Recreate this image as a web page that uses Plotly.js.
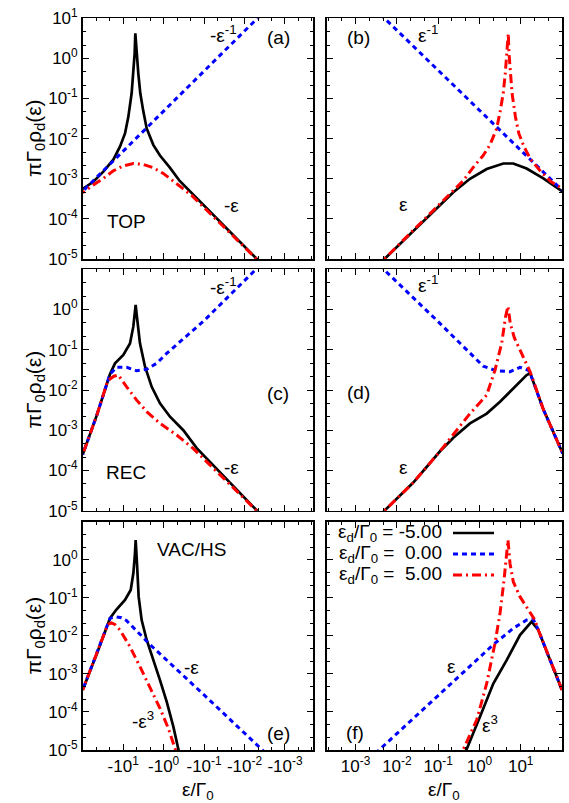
<!DOCTYPE html>
<html>
<head>
<meta charset="utf-8">
<script src="https://cdn.plot.ly/plotly-3.0.1.min.js"></script>
<style>html,body{margin:0;padding:0;background:#fff}#plot{width:569px;height:803px}</style>
</head>
<body>
<div id="plot"></div>
<script>
// ---------- DATA (x = |ε|/Γ0, y = πΓ0ρd(ε)) ----------
// Panel (a) TOP, ε<0
const aX_m5 = [0.003, 0.2, 0.4, 0.7, 1.23, 1.8, 2.62, 3.2, 3.77, 4.22, 4.64, 5.0, 5.2, 5.6, 6.17, 7.45, 9.0, 12.0, 17.5, 30.9, 54.6, 100];
const aY_m5 = [6.0e-6, 4.2e-4, 8.8e-4, 1.9e-3, 3.8e-3, 7.0e-3, 1.8e-2, 5.0e-2, 0.135, 0.42, 1.62, 4.2, 1.34, 0.42, 0.135, 3.5e-2, 1.35e-2, 6.3e-3, 3.0e-3, 1.5e-3, 8.4e-4, 5.6e-4];
const aX_0 = [0.004, 0.01, 0.1, 1, 10, 100];
const aY_0 = [12, 4.8, 0.48, 0.048, 4.8e-3, 4.9e-4];
const aX_p5 = [0.003, 0.126, 0.2, 0.326, 0.575, 1.02, 1.8, 3.17, 5.6, 9.9, 17.5, 30.9, 54.6, 100];
const aY_p5 = [6.0e-6, 2.5e-4, 3.8e-4, 5.6e-4, 8.6e-4, 1.36e-3, 1.88e-3, 2.28e-3, 2.4e-3, 2.1e-3, 1.58e-3, 1.02e-3, 7.0e-4, 4.5e-4];
// Panel (b) TOP, ε>0
const bX_m5 = [0.003, 0.025, 0.092, 0.233, 0.59, 1.5, 3.79, 6.6, 13.9, 35.3, 104];
const bY_m5 = [6.0e-6, 5.0e-5, 1.9e-4, 4.6e-4, 1.0e-3, 1.75e-3, 2.4e-3, 2.4e-3, 1.8e-3, 1.02e-3, 4.75e-4];
const bX_0 = [0.004, 0.01, 0.1, 1, 10, 100];
const bY_0 = [12.5, 5.0, 0.5, 0.05, 5.0e-3, 5.2e-4];
const bX_p5 = [0.003, 0.2, 0.4, 0.7, 1.23, 1.8, 2.62, 3.2, 3.77, 4.22, 4.64, 5.0, 5.2, 5.6, 6.17, 7.45, 9.0, 12.0, 17.5, 30.9, 54.6, 100];
const bY_p5 = [6.0e-6, 4.2e-4, 8.8e-4, 1.9e-3, 3.8e-3, 7.0e-3, 1.8e-2, 5.0e-2, 0.135, 0.42, 1.62, 4.2, 1.34, 0.42, 0.135, 3.5e-2, 1.35e-2, 6.3e-3, 3.0e-3, 1.5e-3, 8.4e-4, 5.8e-4];
// Panel (c) REC, ε<0
const cX_m5 = [0.003, 0.152, 0.326, 0.695, 1.23, 1.97, 2.88, 3.84, 4.47, 4.91, 5.61, 6.78, 9.9, 15.9, 21.1, 45.2, 100];
const cY_m5 = [6.0e-6, 3.6e-4, 1.0e-3, 2.17e-3, 4.66e-3, 1.2e-2, 3.8e-2, 0.144, 0.55, 1.3, 0.375, 0.144, 7.4e-2, 4.6e-2, 2.5e-2, 2.3e-3, 2.5e-4];
const cX_0 = [0.004, 0.01, 0.1, 0.84, 1.49, 2.62, 4.64, 8.2, 14.5, 21.1, 45.2, 100];
const cY_0 = [13, 5.3, 0.53, 8.1e-2, 4.6e-2, 3.26e-2, 3.0e-2, 3.66e-2, 3.66e-2, 2.5e-2, 2.3e-3, 2.5e-4];
const cX_p5 = [0.003, 0.184, 0.476, 1.23, 2.62, 4.64, 8.2, 13.2, 17, 24, 45.2, 100];
const cY_p5 = [6.0e-6, 3.5e-4, 7.6e-4, 1.48e-3, 2.9e-3, 5.6e-3, 1.2e-2, 2.36e-2, 2.2e-2, 1.7e-2, 2.3e-3, 2.5e-4];
// Panel (d) REC, ε>0
const dX_m5 = [0.003, 0.025, 0.111, 0.233, 0.59, 1.5, 3.15, 6.6, 13.9, 17, 35.3, 104];
const dY_m5 = [6.0e-6, 5.0e-5, 3.0e-4, 6.5e-4, 1.48e-3, 2.6e-3, 5.1e-3, 1.1e-2, 2.36e-2, 2.6e-2, 3.3e-3, 2.66e-4];
const dX_0 = [0.004, 0.0055, 0.1, 1.24, 2.61, 5.5, 9.6, 15.3, 17, 35.3, 104];
const dY_0 = [13, 8.7, 0.5, 3.9e-2, 3.0e-2, 2.85e-2, 3.66e-2, 3.1e-2, 2.6e-2, 3.3e-3, 2.66e-4];
const dX_p5 = [0.003, 0.025, 0.111, 0.28, 0.59, 1.5, 2.38, 3.46, 4.3, 4.9, 5.6, 7.0, 10, 14, 17, 35.3, 104];
const dY_p5 = [6.0e-6, 5.0e-5, 3.0e-4, 1.0e-3, 2.6e-3, 7.5e-3, 3.1e-2, 0.145, 0.67, 1.2, 0.45, 0.2, 0.09, 4.5e-2, 2.8e-2, 3.3e-3, 2.66e-4];
// Panel (e) VAC/HS, ε<0
const eX_m5 = [0.35, 0.432, 0.575, 0.84, 1.23, 1.8, 2.62, 3.49, 4.14, 4.55, 4.91, 5.1, 5.6, 6.5, 9.0, 14.5, 21.1, 45.2, 100];
const eY_m5 = [4.5e-6, 1.05e-5, 4.1e-5, 1.86e-4, 6.9e-4, 2.3e-3, 7.8e-3, 2.6e-2, 0.107, 0.8, 3.3, 1.48, 0.44, 0.16, 8.75e-2, 4.98e-2, 2.9e-2, 3.3e-3, 3.8e-4];
const eX_0 = [0.003, 0.0038, 0.1, 0.84, 2.17, 4.64, 8.2, 11, 15, 21.1, 45.2, 100];
const eY_0 = [8.2e-6, 1.05e-5, 2.8e-4, 2.3e-3, 5.9e-3, 1.35e-2, 2.5e-2, 3.0e-2, 3.15e-2, 2.9e-2, 3.3e-3, 3.8e-4];
const eX_p5 = [0.4, 0.524, 0.764, 1.23, 2.17, 3.84, 6.78, 12.0, 16, 19.5, 24, 45.2, 100];
const eY_p5 = [4.7e-6, 1.05e-5, 3.7e-5, 1.24e-4, 4.6e-4, 1.55e-3, 5.2e-3, 1.43e-2, 2.0e-2, 2.2e-2, 2.0e-2, 3.3e-3, 3.8e-4];
// Panel (f) VAC/HS, ε>0
const fX_m5 = [0.4, 0.49, 1.03, 2.17, 4.57, 9.6, 18.4, 26.7, 45.2, 100];
const fY_m5 = [5.6e-6, 1.05e-5, 7.5e-5, 5.6e-4, 2.3e-3, 1.05e-2, 2.37e-2, 1.43e-2, 3.3e-3, 3.8e-4];
const fX_0 = [0.003, 0.0039, 0.1, 1, 2.17, 6.6, 13.9, 20.2, 26.7, 45.2, 100];
const fY_0 = [8.1e-6, 1.05e-5, 2.7e-4, 2.7e-3, 5.9e-3, 1.58e-2, 2.6e-2, 2.7e-2, 1.43e-2, 3.3e-3, 3.8e-4];
const fX_p5 = [0.33, 0.41, 0.86, 1.5, 2.38, 3.15, 3.94, 4.57, 4.92, 5.5, 6.6, 9.6, 15.3, 22.1, 26.7, 45.2, 100];
const fY_p5 = [5.1e-6, 1.05e-5, 6.2e-5, 5.6e-4, 6.4e-3, 3.9e-2, 0.29, 1.48, 3.3, 0.8, 0.265, 0.107, 4.8e-2, 2.6e-2, 1.43e-2, 3.3e-3, 3.8e-4];

// Tick labels
const yTickVals = [1e-5, 1e-4, 1e-3, 1e-2, 1e-1, 1, 10];
const yTickTextTop = ['10<sup>-5</sup>','10<sup>-4</sup>','10<sup>-3</sup>','10<sup>-2</sup>','10<sup>-1</sup>','10<sup>0</sup>','10<sup>1</sup>'];
const yTickTextLow = ['10<sup>-5</sup>','10<sup>-4</sup>','10<sup>-3</sup>','10<sup>-2</sup>','10<sup>-1</sup>','10<sup>0</sup>',' '];
const xTickValsNeg = [10, 1, 0.1, 0.01, 0.001];
const xTickTextNeg = ['-10<sup>1</sup>','-10<sup>0</sup>','-10<sup>-1</sup>','-10<sup>-2</sup>','-10<sup>-3</sup>'];
const xTickValsPos = [0.001, 0.01, 0.1, 1, 10];
const xTickTextPos = ['10<sup>-3</sup>','10<sup>-2</sup>','10<sup>-1</sup>','10<sup>0</sup>','10<sup>1</sup>'];
const legendLabels = ['ε<sub>d</sub>/Γ<sub>0</sub> = -5.00', 'ε<sub>d</sub>/Γ<sub>0</sub> =\u00a0 0.00', 'ε<sub>d</sub>/Γ<sub>0</sub> =\u00a0 5.00'];

// ---------- STYLE ----------
const W = 569, H = 803;
const px = x => x / W, py = y => 1 - y / H;
const FONT = 'Liberation Sans, Arial, Helvetica, sans-serif';
const colBlack = '#000000', colBlue = '#0000ff', colRed = '#ff0000';
const lineStyles = [
  {color: colBlack, width: 2.7, dash: 'solid'},
  {color: colBlue, width: 3, dash: '5px,4px'},
  {color: colRed, width: 3, dash: '9px,4px,2px,4px'}
];

const minorVals = [];
for (let k = -6; k <= 2; k++) { minorVals.push(Math.pow(10, k + 1/3), Math.pow(10, k + 2/3)); }

const domL = [82.7 / W, 313.3 / W], domR = [326.7 / W, 562 / W];
const domA = [py(259), py(18.3)], domC = [py(510.7), py(269.3)], domE = [py(750), py(521.7)];

function xAxis(dom, left, showLabels, anchor) {
  return {
    domain: dom, anchor: anchor, type: 'log',
    range: left ? [2, -3.7] : [-3.7, 2],
    showline: true, linecolor: '#000', linewidth: 1.6, mirror: 'allticks',
    ticks: 'inside', ticklen: 6, tickwidth: 1, tickcolor: '#000',
    tickmode: 'array', tickvals: left ? xTickValsNeg : xTickValsPos,
    ticktext: left ? xTickTextNeg : xTickTextPos,
    showticklabels: showLabels, tickfont: {family: FONT, size: 17, color: '#000'},
    minor: {ticks: 'inside', ticklen: 3, tickwidth: 1, tickcolor: '#000', tickmode: 'array', tickvals: minorVals, showgrid: false},
    showgrid: false, zeroline: false
  };
}
function yAxis(dom, showLabels, top, anchor) {
  return {
    domain: dom, anchor: anchor, type: 'log', range: [-5, 1],
    showline: true, linecolor: '#000', linewidth: 1.6, mirror: 'allticks',
    ticks: 'inside', ticklen: 6, tickwidth: 1, tickcolor: '#000',
    tickmode: 'array', tickvals: yTickVals, ticktext: top ? yTickTextTop : yTickTextLow,
    showticklabels: showLabels, tickfont: {family: FONT, size: 17, color: '#000'},
    minor: {ticks: 'inside', ticklen: 3, tickwidth: 1, tickcolor: '#000', tickmode: 'array', tickvals: minorVals, showgrid: false},
    showgrid: false, zeroline: false
  };
}

const panels = [
  {xs: [aX_m5, aX_0, aX_p5], ys: [aY_m5, aY_0, aY_p5], xa: 'x', ya: 'y'},
  {xs: [bX_m5, bX_0, bX_p5], ys: [bY_m5, bY_0, bY_p5], xa: 'x2', ya: 'y2'},
  {xs: [cX_m5, cX_0, cX_p5], ys: [cY_m5, cY_0, cY_p5], xa: 'x3', ya: 'y3'},
  {xs: [dX_m5, dX_0, dX_p5], ys: [dY_m5, dY_0, dY_p5], xa: 'x4', ya: 'y4'},
  {xs: [eX_m5, eX_0, eX_p5], ys: [eY_m5, eY_0, eY_p5], xa: 'x5', ya: 'y5'},
  {xs: [fX_m5, fX_0, fX_p5], ys: [fY_m5, fY_0, fY_p5], xa: 'x6', ya: 'y6'}
];
const traces = [];
panels.forEach(p => {
  for (let i = 0; i < 3; i++) {
    traces.push({type: 'scatter', mode: 'lines', x: p.xs[i], y: p.ys[i], xaxis: p.xa, yaxis: p.ya,
      line: Object.assign({shape: 'linear'}, lineStyles[i]), hoverinfo: 'skip', showlegend: false});
  }
});

function label(x, y, text, size) {
  return {xref: 'paper', yref: 'paper', x: px(x), y: py(y), text: text, showarrow: false,
    xanchor: 'center', yanchor: 'middle', font: {family: FONT, size: size || 19, color: '#000'}};
}
const annotations = [
  label(223, 34, '-ε<sup>-1</sup>'), label(278, 38, '(a)'), label(231, 205, '-ε'), label(126, 221, 'TOP'),
  label(428, 34, 'ε<sup>-1</sup>'), label(358, 38, '(b)'), label(403, 204, 'ε'),
  label(223, 286, '-ε<sup>-1</sup>'), label(278, 394, '(c)'), label(126, 472, 'REC'), label(231, 467, '-ε'),
  label(428, 284, 'ε<sup>-1</sup>'), label(358, 393, '(d)'), label(403, 467, 'ε'),
  label(191, 549, 'VAC/HS'), label(191, 667, '-ε'), label(143, 720, '-ε<sup>3</sup>'), label(278, 733, '(e)'),
  label(451, 666, 'ε'), label(490, 724, 'ε<sup>3</sup>'), label(355, 732, '(f)')
];
// axis titles
[[138.6], [390], [636]].forEach(v => {
  annotations.push({xref: 'paper', yref: 'paper', x: px(34.5), y: py(v[0]), text: 'πΓ<sub>0</sub>ρ<sub>d</sub>(ε)',
    textangle: -90, showarrow: false, xanchor: 'center', yanchor: 'middle', font: {family: FONT, size: 21, color: '#000'}});
});
annotations.push(label(198, 791, 'ε/Γ<sub>0</sub>'), label(444, 791, 'ε/Γ<sub>0</sub>'));
// legend texts
const legendRows = [533, 554, 575];
const shapes = [];
legendRows.forEach((yy, i) => {
  annotations.push({xref: 'paper', yref: 'paper', x: px(444), y: py(yy), text: legendLabels[i], showarrow: false,
    xanchor: 'right', yanchor: 'middle', font: {family: FONT, size: 19, color: '#000'}});
  shapes.push({type: 'line', xref: 'paper', yref: 'paper', x0: px(453), x1: px(494), y0: py(yy), y1: py(yy),
    line: {color: lineStyles[i].color, width: lineStyles[i].width, dash: lineStyles[i].dash}});
});

const layout = {
  width: W, height: H, margin: {l: 0, r: 0, t: 0, b: 0},
  paper_bgcolor: '#fff', plot_bgcolor: '#fff', showlegend: false,
  font: {family: FONT, size: 17, color: '#000'},
  xaxis: xAxis(domL, true, false, 'y'), yaxis: yAxis(domA, true, true, 'x'),
  xaxis2: xAxis(domR, false, false, 'y2'), yaxis2: yAxis(domA, false, true, 'x2'),
  xaxis3: xAxis(domL, true, false, 'y3'), yaxis3: yAxis(domC, true, false, 'x3'),
  xaxis4: xAxis(domR, false, false, 'y4'), yaxis4: yAxis(domC, false, false, 'x4'),
  xaxis5: xAxis(domL, true, true, 'y5'), yaxis5: yAxis(domE, true, false, 'x5'),
  xaxis6: xAxis(domR, false, true, 'y6'), yaxis6: yAxis(domE, false, false, 'x6'),
  annotations: annotations, shapes: shapes
};
Plotly.newPlot('plot', traces, layout, {staticPlot: true, displayModeBar: false});
</script>
</body>
</html>
